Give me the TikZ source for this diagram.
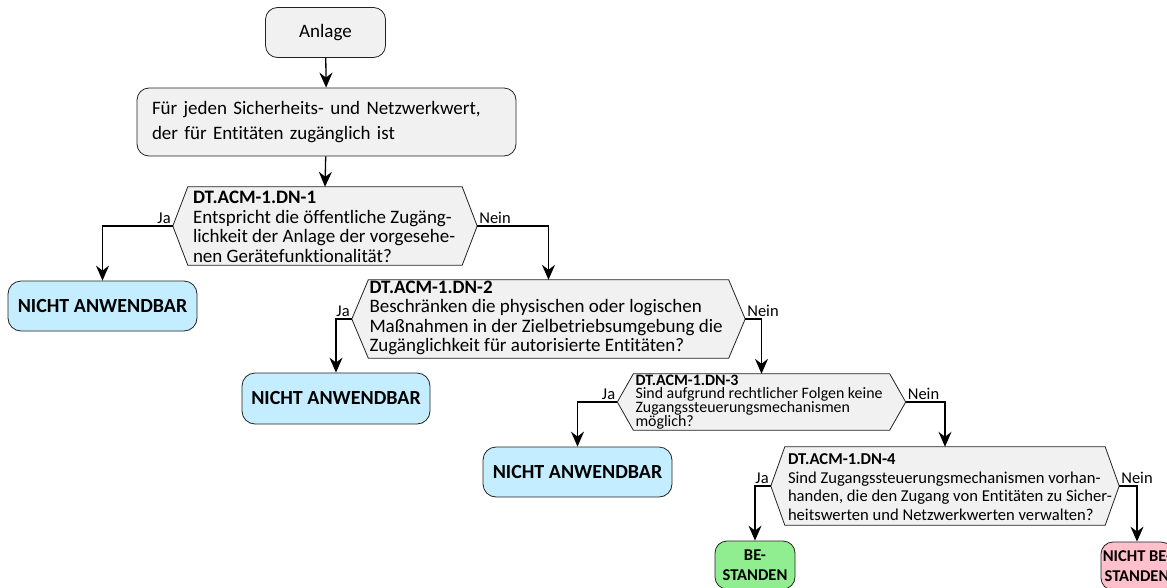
\documentclass[tikz,border=0pt]{standalone}
\usepackage{fontspec}
\setmainfont{Carlito}[Ligatures=CommonOff]
\usetikzlibrary{arrows.meta,backgrounds}
\definecolor{boxfill}{HTML}{F1F1F1}
\definecolor{edge}{HTML}{222222}
\definecolor{nafill}{HTML}{C4EEFF}
\definecolor{okfill}{HTML}{90EE90}
\definecolor{failfill}{HTML}{FFC0CB}
\begin{document}
\begin{tikzpicture}[x=1pt,y=-1pt,
  actbox/.style={draw=edge, fill=boxfill, line width=0.8pt, rounded corners=12pt, inner sep=0pt},
  termbox/.style={draw=edge, line width=0.8pt, rounded corners=13pt, inner sep=0pt, align=center,
    font=\fontsize{20}{23}\selectfont\bfseries},
  smallterm/.style={termbox, rounded corners=12pt, font=\fontsize{16.5}{20}\selectfont\bfseries},
  hexframe/.style={inner sep=0pt},
  hexbody/.style={inner sep=0pt, align=left, anchor=west},
  hexline/.style={draw=edge, fill=boxfill, line width=0.8pt},
  flow/.style={-{Stealth[length=15pt,width=13pt,inset=5pt]}, line width=1.3pt},
  lbl/.style={font=\fontsize{16.5}{18}\selectfont, inner sep=1.5pt},
  bigtxt/.style={font=\fontsize{19}{25}\selectfont},
  hextxt/.style={font=\fontsize{19}{19.5}\selectfont},
  midtxt/.style={font=\fontsize{16.6}{18.6}\selectfont},
  smalltxt/.style={font=\fontsize{15.9}{13.8}\selectfont}
]
\useasboundingbox (0,0) rectangle (1167,587);

% start and loop header
\node[actbox, minimum width=120pt, minimum height=50pt, bigtxt] (anl) at (325.5,32.5) {Anlage};
\node[actbox, minimum width=379pt, minimum height=68pt, text width=349pt, align=left, bigtxt] (loop) at (326.5,122)
  {Für jeden Sicherheits- und Netzwerkwert,\\der für Entitäten zugänglich ist};

% decision bodies (flat top and bottom edges)
\node[hexframe, minimum width=274pt, minimum height=78pt] (h1) at (325,226) {};
\node[hexframe, minimum width=360pt, minimum height=78pt] (h2) at (548.5,319) {};
\node[hexframe, minimum width=256pt, minimum height=56pt] (h3) at (761.5,402) {};
\node[hexframe, minimum width=320pt, minimum height=78pt] (h4) at (945,486) {};

% hexagon outlines
\begin{scope}[on background layer]
  \foreach \h/\s in {h1/15, h2/16.5, h3/16, h4/14}{
    \draw[hexline] (\h.north west) -- (\h.north east) -- ([xshift=\s pt]\h.east)
      -- (\h.south east) -- (\h.south west) -- ([xshift=-\s pt]\h.west) -- cycle;
  }
\end{scope}

% decision texts
\node[hexbody, hextxt] (h1t) at ([xshift=5pt,yshift=-1pt]h1.west)
  {\textbf{DT.ACM-1.DN-1}\\Entspricht die öffentliche Zugäng-\\lichkeit der Anlage der vorgesehe-\\nen Gerätefunktionalität?};
\node[hexbody, hextxt] (h2t) at ([xshift=1pt,yshift=1pt]h2.west)
  {\textbf{DT.ACM-1.DN-2}\\Beschränken die physischen oder logischen\\Maßnahmen in der Zielbetriebsumgebung die\\Zugänglichkeit für autorisierte Entitäten?};
\node[hexbody, smalltxt] (h3t) at ([xshift=2pt]h3.west)
  {\textbf{DT.ACM-1.DN-3}\\Sind aufgrund rechtlicher Folgen keine\\Zugangssteuerungsmechanismen\\möglich?};
\node[hexbody, midtxt] (h4t) at ([xshift=3pt,yshift=-1pt]h4.west)
  {\textbf{DT.ACM-1.DN-4}\\Sind Zugangssteuerungsmechanismen vorhan-\\handen, die den Zugang von Entitäten zu Sicher-\\heitswerten und Netzwerkwerten verwalten?};

% decision points
\coordinate (h1L) at ([xshift=-15pt]h1.west);
\coordinate (h1R) at ([xshift=15pt]h1.east);
\coordinate (h2L) at ([xshift=-16.5pt]h2.west);
\coordinate (h2R) at ([xshift=16.5pt]h2.east);
\coordinate (h3L) at ([xshift=-16pt]h3.west);
\coordinate (h3R) at ([xshift=16pt]h3.east);
\coordinate (h4L) at ([xshift=-14pt]h4.west);
\coordinate (h4R) at ([xshift=14pt]h4.east);

% outcomes
\node[termbox, fill=nafill, minimum width=189pt, minimum height=50pt] (na1) at (102.5,306) {NICHT ANWENDBAR};
\node[termbox, fill=nafill, minimum width=188pt, minimum height=51pt] (na2) at (336,398.5) {NICHT ANWENDBAR};
\node[termbox, fill=nafill, minimum width=189pt, minimum height=50pt] (na3) at (577.5,472) {NICHT ANWENDBAR};
\node[smallterm, fill=okfill, minimum width=80pt, minimum height=48pt] (bes) at (755,565) {BE-\\STANDEN};
\node[smallterm, fill=failfill, minimum width=72pt, minimum height=48pt] (nbes) at (1137,566) {NICHT BE-\\STANDEN};

% flow
\draw[flow] (anl) -- (loop);
\draw[flow] (loop) -- (h1.north);
\draw[flow] (h1L) node[lbl, above left] {Ja} -| (na1.north);
\draw[flow] (h1R) node[lbl, above right] {Nein} -| (h2.north);
\draw[flow] (h2L) node[lbl, above left] {Ja} -| (na2.north);
\draw[flow] (h2R) node[lbl, above right] {Nein} -| (h3.north);
\draw[flow] (h3L) node[lbl, above left] {Ja} -| (na3.north);
\draw[flow] (h3R) node[lbl, above right] {Nein} -| (h4.north);
\draw[flow] (h4L) node[lbl, above left] {Ja} -| (bes.north);
\draw[flow] (h4R) node[lbl, above right] {Nein} -| (nbes.north);
\end{tikzpicture}
\end{document}
